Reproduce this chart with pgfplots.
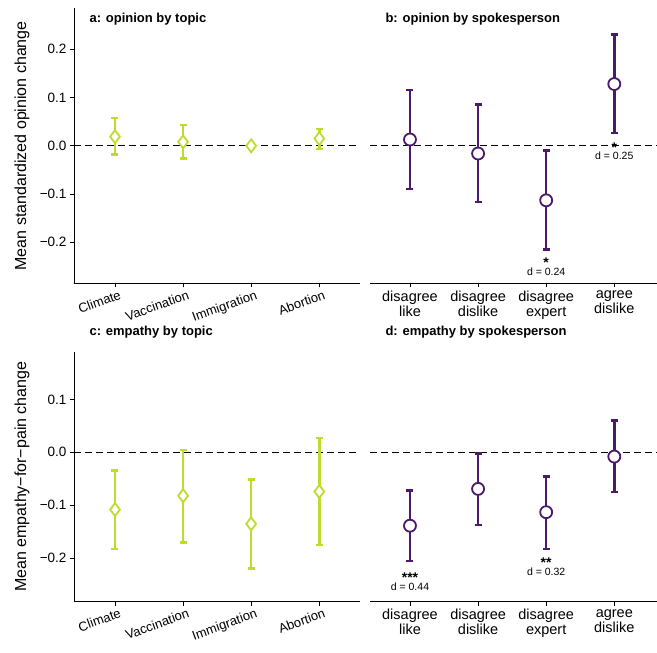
\documentclass[border=0pt]{standalone}
\usepackage{pgfplots}
\pgfplotsset{compat=1.18}
\usepackage{fontspec}
\setmainfont{Liberation Sans}
\definecolor{lg}{HTML}{BEDC2E}
\definecolor{pu}{HTML}{4B1A6B}
\tikzset{zl/.style={dash pattern=on 7pt off 4pt, line width=0.9pt}}
\pgfplotsset{
  pbase/.style={scale only axis, axis line style={line width=0.8pt}, tick style={line width=0.8pt, black},
    tick align=outside, major tick length=4pt, xtick=data,
    ticklabel style={font=\fontsize{13.5}{15}\selectfont},
    clip=false},
  ptop/.style={height=275pt,ymin=-0.285,ymax=0.285,ytick={-0.2,-0.1,0,0.1,0.2},
    yticklabels={−0.2,−0.1,0.0,0.1,0.2}},
  pbot/.style={height=250pt,ymin=-0.282,ymax=0.19,ytick={-0.2,-0.1,0,0.1},
    yticklabels={−0.2,−0.1,0.0,0.1}},
  pleft/.style={axis x line*=bottom, axis y line*=left, xmin=-0.602, xmax=3.598, width=286pt,
    xticklabels={Climate,Vaccination,Immigration,Abortion},
    xticklabel style={rotate=20, anchor=north east, xshift=6pt, font=\fontsize{13}{15}\selectfont}},
  pright/.style={axis x line*=bottom, axis y line=none, xmin=-0.587, xmax=3.627, width=287pt,
    xticklabels={{disagree\\like},{disagree\\dislike},{disagree\\expert},{agree\\dislike}},
    xticklabel style={align=center, font=\fontsize{14.5}{15}\selectfont}},
  eb/.style={draw=none, mark=none, forget plot,
    error bars/.cd, y dir=both, y explicit, error bar style={line width=2.6pt,#1},
    error mark options={rotate=90, mark size=3.5pt, line width=2.4pt,#1}},
}
\begin{document}
\begin{tikzpicture}
\useasboundingbox (0pt,0pt) rectangle (657pt,653pt);
% a
\begin{axis}[pbase,ptop,pleft,at={(74pt,369.7pt)},anchor=south west,
  ylabel={Mean standardized opinion change}, ylabel style={font=\fontsize{16}{18}\selectfont, at={(-52pt,0.5)}, anchor=center}]
\draw[zl] (axis cs:-0.602,0) -- (axis cs:3.598,0);
\addplot[eb=lg] table[y error plus=ep, y error minus=em] {
x y ep em
0 0.019 0.038 0.037
1 0.008 0.035 0.034
2 0.0 0.004 0.004
3 0.015 0.020 0.022
};
\addplot[only marks, mark=diamond*, mark size=6.5pt, mark options={fill=white, draw=lg, line width=1.8pt}] table {
x y
0 0.019
1 0.008
2 0.0
3 0.015
};
\end{axis}
% b
\begin{axis}[pbase,ptop,pright,at={(370pt,369.7pt)},anchor=south west]
\draw[zl] (axis cs:-0.587,0) -- (axis cs:3.627,0);
\addplot[eb=pu] table[y error plus=ep, y error minus=em] {
x y ep em
0 0.013 0.103 0.102
1 -0.016 0.102 0.101
2 -0.113 0.103 0.102
3 0.128 0.103 0.102
};
\addplot[only marks, mark=*, mark size=6pt, mark options={fill=white, draw=pu, line width=1.8pt}] table {
x y
0 0.013
1 -0.016
2 -0.113
3 0.128
};
\node[font=\fontsize{14}{14}\selectfont\bfseries] at (axis cs:2,-0.242) {*};
\node[font=\fontsize{10.5}{11}\selectfont] at (axis cs:2,-0.261) {d = 0.24};
\node[font=\fontsize{14}{14}\selectfont\bfseries] at (axis cs:3,-0.003) {*};
\node[font=\fontsize{10.5}{11}\selectfont] at (axis cs:3,-0.021) {d = 0.25};
\end{axis}
% c
\begin{axis}[pbase,pbot,pleft,at={(74pt,51.3pt)},anchor=south west,
  ylabel={Mean empathy−for−pain change}, ylabel style={font=\fontsize{16}{18}\selectfont, at={(-52pt,0.5)}, anchor=center}]
\draw[zl] (axis cs:-0.602,0) -- (axis cs:3.598,0);
\addplot[eb=lg] table[y error plus=ep, y error minus=em] {
x y ep em
0 -0.108 0.074 0.074
1 -0.082 0.086 0.088
2 -0.135 0.084 0.084
3 -0.074 0.101 0.101
};
\addplot[only marks, mark=diamond*, mark size=6.5pt, mark options={fill=white, draw=lg, line width=1.8pt}] table {
x y
0 -0.108
1 -0.082
2 -0.135
3 -0.074
};
\end{axis}
% d
\begin{axis}[pbase,pbot,pright,at={(370pt,51.3pt)},anchor=south west]
\draw[zl] (axis cs:-0.587,0) -- (axis cs:3.627,0);
\addplot[eb=pu] table[y error plus=ep, y error minus=em] {
x y ep em
0 -0.1385 0.0665 0.0665
1 -0.069 0.067 0.068
2 -0.113 0.067 0.069
3 -0.008 0.068 0.067
};
\addplot[only marks, mark=*, mark size=6pt, mark options={fill=white, draw=pu, line width=1.8pt}] table {
x y
0 -0.1385
1 -0.069
2 -0.113
3 -0.008
};
\node[font=\fontsize{14}{14}\selectfont\bfseries] at (axis cs:0,-0.236) {***};
\node[font=\fontsize{10.5}{11}\selectfont] at (axis cs:0,-0.253) {d = 0.44};
\node[font=\fontsize{14}{14}\selectfont\bfseries] at (axis cs:2,-0.208) {**};
\node[font=\fontsize{10.5}{11}\selectfont] at (axis cs:2,-0.226) {d = 0.32};
\end{axis}
\node[anchor=west, font=\fontsize{13}{14}\selectfont\bfseries] at (86pt,634pt) {a: opinion by topic};
\node[anchor=west, font=\fontsize{13}{14}\selectfont\bfseries] at (382pt,634pt) {b: opinion by spokesperson};
\node[anchor=west, font=\fontsize{13}{14}\selectfont\bfseries] at (86pt,321pt) {c: empathy by topic};
\node[anchor=west, font=\fontsize{13}{14}\selectfont\bfseries] at (382pt,321pt) {d: empathy by spokesperson};
\end{tikzpicture}
\end{document}
